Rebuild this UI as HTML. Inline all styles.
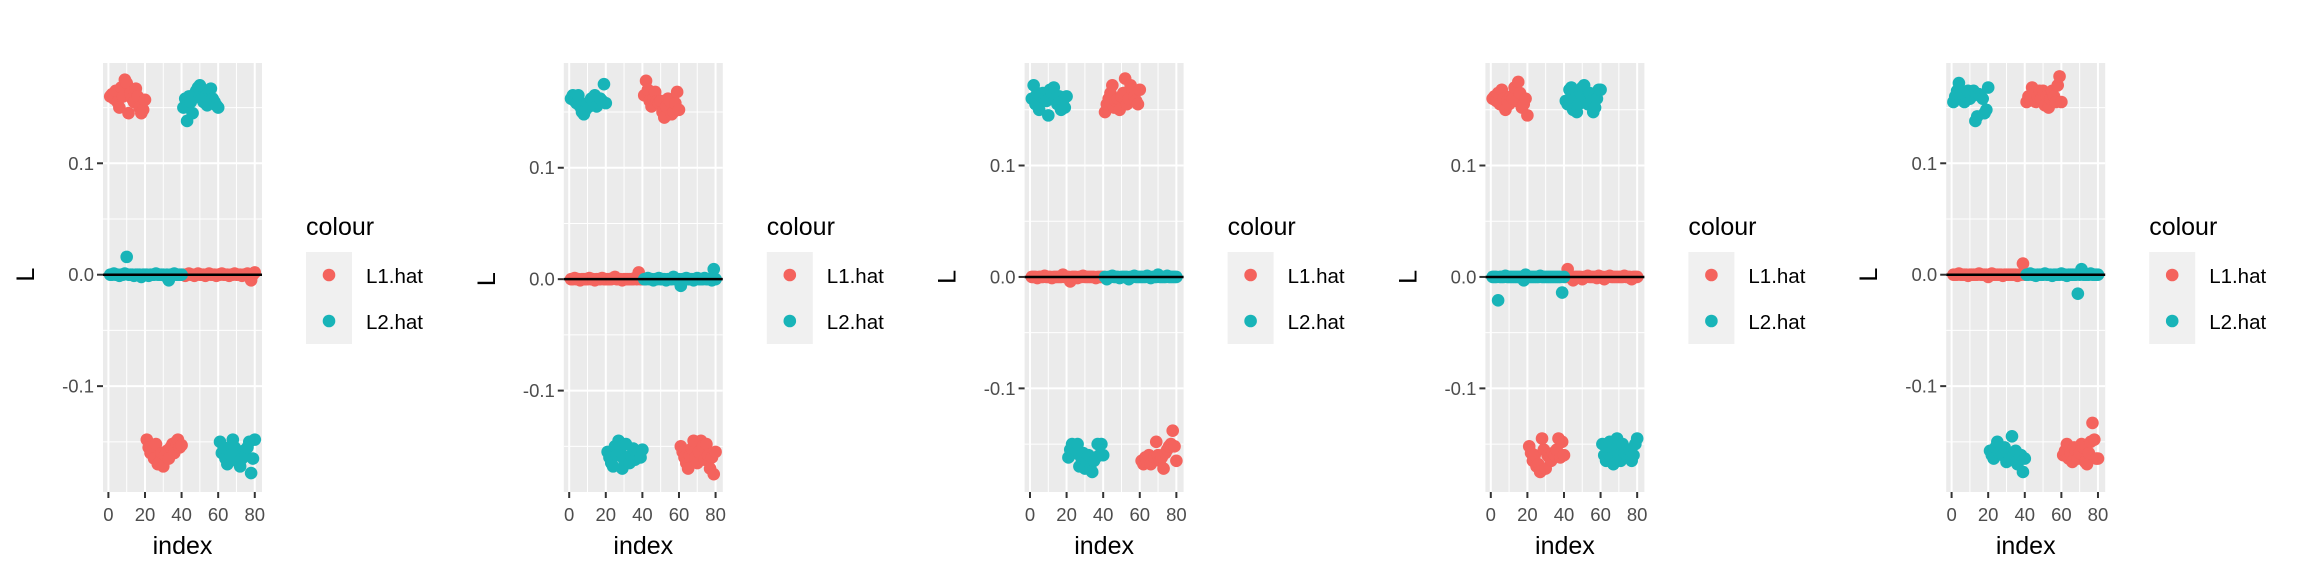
<!DOCTYPE html>
<html><head><meta charset="utf-8"><style>
html,body{margin:0;padding:0;background:#fff;}
svg{display:block;font-family:"Liberation Sans",Arial,sans-serif;}
</style></head><body>
<svg id="chart" width="2304" height="576" viewBox="0 0 2304 576"></svg>
<script>
// ---- data ----
const xTicks = [0, 20, 40, 60, 80];
const yTicks = [0.1, 0.0, -0.1];
const yTickLabels = ["0.1", "0.0", "-0.1"];
const seriesNames = ["L1.hat", "L2.hat"];
const yDomainTop = [0.190, 0.194, 0.192, 0.192, 0.190];
const yDomainBottom = [-0.195, -0.191, -0.193, -0.193, -0.195];

const p1L1 = [.160,.162,.158,.165,.155,.150,.168,.160,.175,.172,.145,.163,.158,.155,.167,.160,.150,.145,.148,.157,
 -.148,-.155,-.160,-.158,-.165,-.152,-.170,-.168,-.160,-.172,-.162,-.158,-.165,-.155,-.152,-.160,-.150,-.148,-.155,-.153,
 0,-.001,0,.001,0,0,-.001,0,.001,0,0,0,-.001,0,.001,0,0,0,-.001,0,0,.001,0,0,0,-.001,0,0,.001,0,0,0,-.001,0,0,.001,-.002,-.005,0,.002];
const p1L2 = [0,0,.001,0,0,-.001,0,0,.001,.016,0,0,0,-.001,0,0,0,-.002,0,0,0,-.001,0,0,0,.001,0,0,0,0,-.001,0,-.005,0,0,.001,0,0,0,0,
 .150,.158,.138,.160,.155,.145,.162,.165,.168,.170,.158,.155,.160,.152,.165,.167,.158,.155,.152,.150,
 -.150,-.160,-.155,-.165,-.170,-.158,-.162,-.148,-.155,-.160,-.168,-.172,-.165,-.158,-.162,-.155,-.150,-.178,-.165,-.148];

const p2L1 = [0,0,.001,0,0,-.001,0,0,0,0,.001,0,0,-.001,0,0,0,.001,0,0,0,0,0,.001,.002,0,0,0,-.001,0,0,0,0,0,0,.001,0,.006,0,0,
 .165,.178,.170,.160,.155,.162,.168,.160,.158,.160,.150,.145,.155,.162,.160,.148,.150,.158,.168,.152,
 -.150,-.155,-.160,-.165,-.170,-.158,-.152,-.145,-.160,-.165,-.155,-.145,-.150,-.162,-.148,-.158,-.170,-.160,-.175,-.155];
const p2L2 = [.162,.165,.160,.158,.165,.155,.150,.148,.152,.158,.155,.162,.160,.165,.155,.158,.162,.160,.175,.158,
 -.155,-.160,-.165,-.168,-.150,-.158,-.145,-.155,-.170,-.162,-.148,-.160,-.165,-.158,-.152,-.162,-.158,-.155,-.160,-.153,
 0,0,.001,0,0,-.001,0,0,.001,0,0,0,-.001,0,0,0,.002,0,0,0,-.006,0,0,.001,0,0,0,-.001,0,.001,0,0,0,.001,0,0,0,-.001,.009,0];

const p3L1 = [0,0,0,-.001,0,0,0,.001,0,0,0,-.001,0,0,0,0,0,.002,0,0,0,-.004,0,0,0,-.001,0,0,.001,0,0,0,0,0,0,-.001,0,0,0,0,
 .148,.155,.160,.165,.172,.152,.158,.160,.150,.162,.165,.178,.155,.160,.172,.168,.162,.158,.155,.168,
 -.165,-.168,-.162,-.166,-.160,-.168,-.165,-.162,-.148,-.160,-.165,-.162,-.172,-.158,-.155,-.152,-.150,-.138,-.152,-.165];
const p3L2 = [.160,.172,.155,.165,.150,.162,.165,.160,.158,.145,.168,.165,.170,.160,.155,.162,.150,.158,.152,.162,
 -.162,-.155,-.150,-.158,-.155,-.150,-.170,-.162,-.158,-.172,-.165,-.160,-.172,-.175,-.165,-.162,-.150,-.160,-.150,-.160,
 0,-.002,0,0,.001,0,0,0,-.001,0,0,0,0,-.002,0,0,.001,0,0,0,0,0,0,.001,0,-.001,0,0,0,.002,0,0,0,0,.001,0,0,0,0,0];

const p4L1 = [.160,.162,.158,.165,.155,.168,.160,.150,.158,.155,.162,.160,.170,.158,.175,.165,.152,.155,.160,.145,
 -.152,-.158,-.165,-.160,-.170,-.168,-.175,-.145,-.155,-.172,-.160,-.162,-.165,-.158,-.160,-.155,-.145,-.162,-.148,-.160,
 0,.007,0,-.001,-.003,0,0,0,0,-.002,0,0,.001,0,0,0,0,-.001,.001,0,0,-.002,0,0,.001,0,0,0,0,0,0,0,.001,0,0,0,-.002,0,0,0];
const p4L2 = [0,0,0,-.021,0,0,0,.001,0,0,0,0,0,0,0,0,0,-.003,.002,0,0,0,0,0,0,0,.001,0,0,0,0,0,0,0,0,0,0,0,-.014,0,
 .158,.155,.168,.170,.150,.160,.148,.155,.165,.170,.172,.160,.155,.165,.158,.148,.152,.160,.168,.168,
 -.150,-.160,-.165,-.158,-.148,-.162,-.168,-.155,-.145,-.160,-.165,-.150,-.158,-.160,-.162,-.155,-.165,-.160,-.150,-.145];

const p5L1 = [0,0,0,.001,0,0,0,0,-.001,0,0,0,0,0,.001,0,0,0,0,-.002,0,.001,0,0,0,0,0,-.001,0,0,0,0,0,0,0,-.001,0,0,.010,0,
 .155,.160,.158,.168,.162,.155,.160,.165,.158,.165,.152,.160,.150,.158,.165,.160,.155,.170,.178,.155,
 -.162,-.158,-.152,-.165,-.160,-.168,-.155,-.158,-.165,-.160,-.152,-.155,-.168,-.170,-.160,-.150,-.133,-.148,-.165,-.165];
const p5L2 = [.155,.160,.165,.172,.158,.162,.155,.160,.165,.158,.160,.165,.138,.142,.162,.160,.158,.145,.148,.168,
 -.158,-.162,-.165,-.155,-.150,-.160,-.158,-.162,-.155,-.168,-.160,-.165,-.145,-.162,-.158,-.170,-.165,-.162,-.177,-.165,
 0,0,.001,0,0,-.001,0,0,0,0,.001,0,0,0,-.001,0,0,0,0,.001,0,0,-.001,0,0,0,0,0,-.017,0,.005,0,0,0,0,.001,0,0,0,0];

const panelL1 = [p1L1, p2L1, p3L1, p4L1, p5L1];
const panelL2 = [p1L2, p2L2, p3L2, p4L2, p5L2];

// ---- drawing ----
const NS = "http://www.w3.org/2000/svg";
const svgRoot = document.getElementById("chart");
const colors = ["#F4635D", "#18B4B8"];
function mk(tag, attrs, parent) {
  const el = document.createElementNS(NS, tag);
  for (const k in attrs) el.setAttribute(k, attrs[k]);
  (parent || svgRoot).appendChild(el);
  return el;
}
const pW = 460.8, plotLeft = 103, plotRight = 262, plotTop = 63, plotBottom = 492;
const xMin = -2.95, xMax = 83.95;
const ptR = 6.3;

for (let p = 0; p < 5; p++) {
  const ox = p * pW;
  const g = mk("g", {});
  
  
  const xs = v => ox + plotLeft + (v - xMin) / (xMax - xMin) * (plotRight - plotLeft);
  const yT = yDomainTop[p], yB = yDomainBottom[p];
  const ys = v => plotTop + (yT - v) / (yT - yB) * (plotBottom - plotTop);

  const bg = mk("rect", {x: ox + plotLeft, y: plotTop, width: plotRight - plotLeft, height: plotBottom - plotTop, fill: "#EBEBEB"}, g);
  
  
  [0.15, 0.05, -0.05, -0.15].forEach(v => {
    mk("line", {x1: ox + plotLeft, x2: ox + plotRight, y1: ys(v), y2: ys(v), stroke: "#fff", "stroke-width": 1}, g);
  });
  [10, 30, 50, 70].forEach(v => {
    mk("line", {x1: xs(v), x2: xs(v), y1: plotTop, y2: plotBottom, stroke: "#fff", "stroke-width": 1}, g);
  });
  yTicks.forEach((v, i) => {
    mk("line", {x1: ox + plotLeft, x2: ox + plotRight, y1: ys(v), y2: ys(v), stroke: "#fff", "stroke-width": 2}, g);
    mk("line", {x1: ox + plotLeft - 6, x2: ox + plotLeft, y1: ys(v), y2: ys(v), stroke: "#333", "stroke-width": 2}, g);
    const t = mk("text", {x: ox + plotLeft - 9, y: ys(v) + 6.5, "text-anchor": "end", "font-size": 18.5, fill: "#4D4D4D"}, g);
    t.textContent = yTickLabels[i];
    
    
  });
  xTicks.forEach(v => {
    mk("line", {x1: xs(v), x2: xs(v), y1: plotTop, y2: plotBottom, stroke: "#fff", "stroke-width": 2}, g);
    mk("line", {x1: xs(v), x2: xs(v), y1: plotBottom, y2: plotBottom + 6, stroke: "#333", "stroke-width": 2}, g);
    const t = mk("text", {x: xs(v), y: 521, "text-anchor": "middle", "font-size": 18.5, fill: "#4D4D4D"}, g);
    t.textContent = String(v);
    
    
  });
  [panelL1[p], panelL2[p]].forEach((arr, s) => {
    arr.forEach((v, i) => {
      const c = mk("circle", {cx: xs(i + 1), cy: ys(v), r: ptR, fill: colors[s]}, g);
      
      
    });
  });
  const zl = mk("line", {x1: ox + plotLeft, x2: ox + plotRight, y1: ys(0), y2: ys(0), stroke: "#000", "stroke-width": 2.5}, g);
  
  
  const xt = mk("text", {x: ox + (plotLeft + plotRight) / 2, y: 554, "text-anchor": "middle", "font-size": 25, fill: "#000"}, g);
  xt.textContent = "index";
  
  
  const yt = mk("text", {x: 0, y: 0, "text-anchor": "middle", "font-size": 25, fill: "#000", transform: `translate(${ox + 34},${ys(0)}) rotate(-90)`}, g);
  yt.textContent = "L";
  
  
  const lg = mk("g", {}, g);
  
  
  const lt = mk("text", {x: ox + 306, y: 235, "font-size": 25, fill: "#000"}, lg);
  lt.textContent = "colour";
  
  
  mk("rect", {x: ox + 306, y: 252, width: 46, height: 92, fill: "#F0F0F0"}, lg);
  seriesNames.forEach((n, s) => {
    const cy = 275 + s * 46;
    const e = mk("g", {}, lg);
    
    
    mk("circle", {cx: ox + 329, cy: cy, r: ptR, fill: colors[s]}, e);
    const tx = mk("text", {x: ox + 366, y: cy + 8, "font-size": 20.5, fill: "#000"}, e);
    tx.textContent = n;
  });
}
</script>
</body></html>
